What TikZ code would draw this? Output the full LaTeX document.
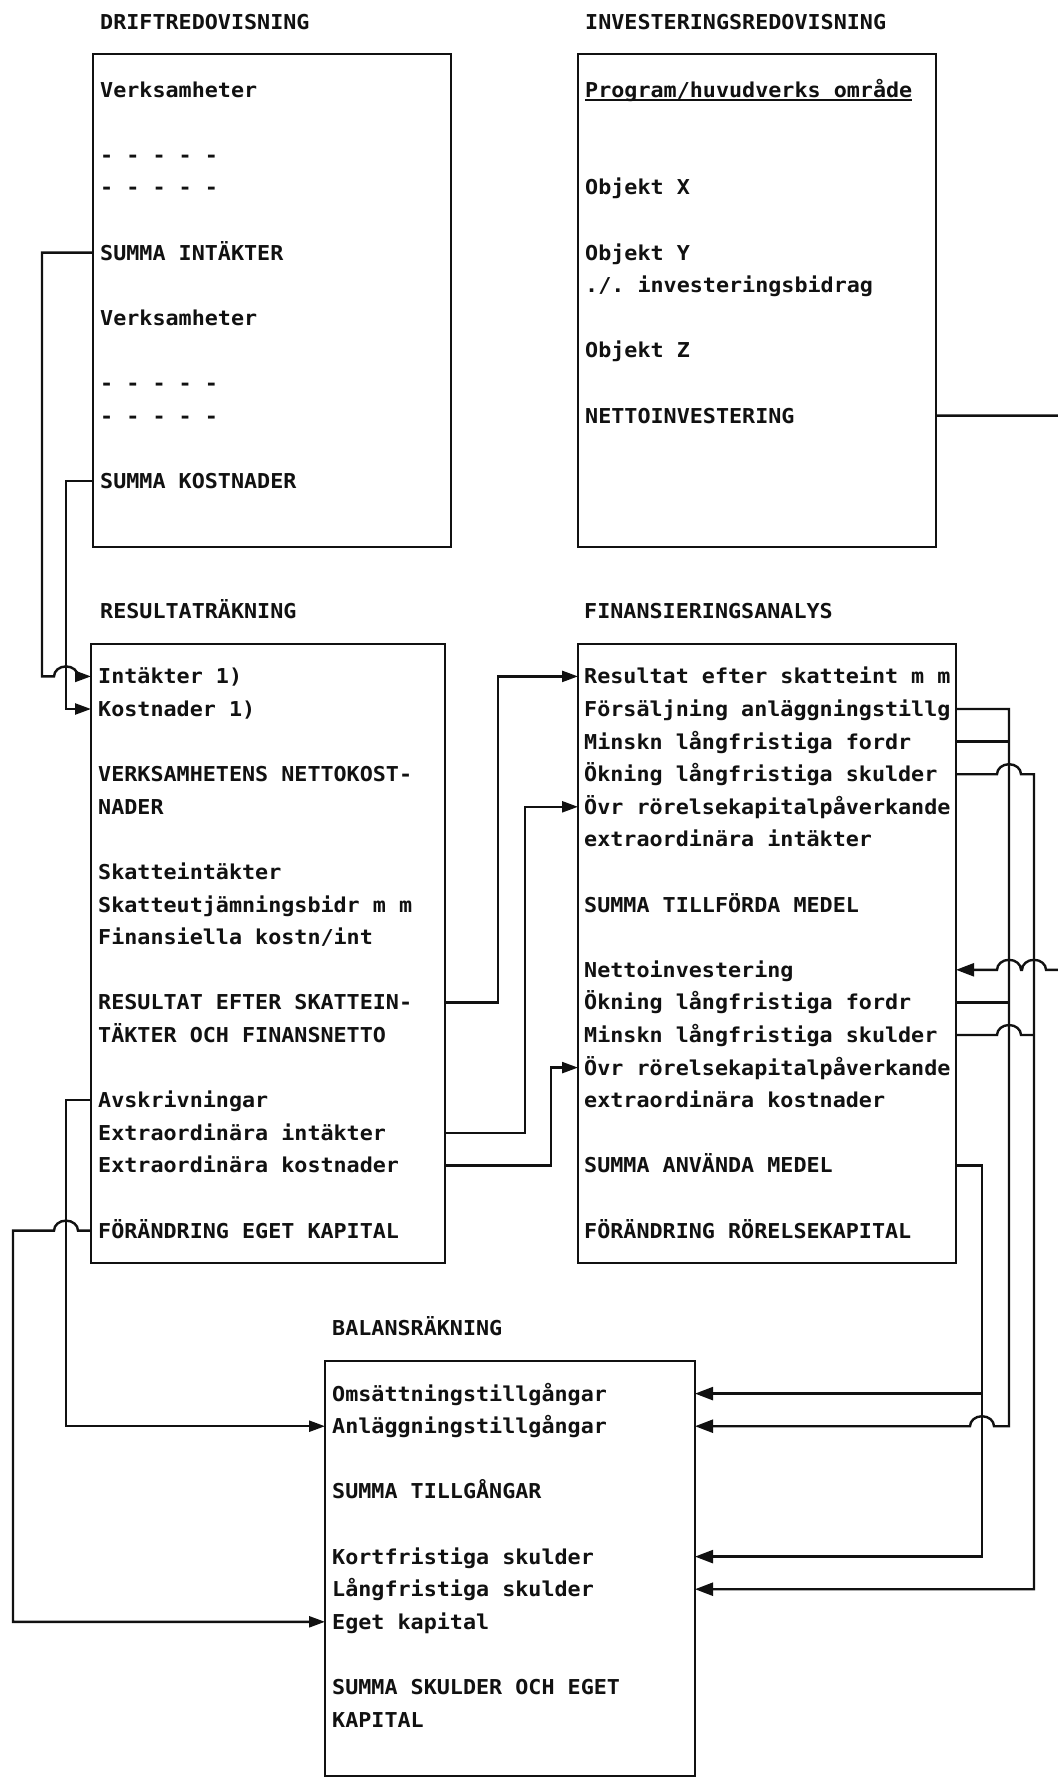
\documentclass[tikz,border=0pt]{standalone}
\usepackage{fontspec}
\setmonofont[FakeStretch=1.06]{DejaVu Sans Mono}
\usetikzlibrary{arrows.meta,calc,positioning}
\definecolor{ledgerInk}{HTML}{111111}
\definecolor{ledgerPaper}{HTML}{FFFFFF}

\begin{document}
\begin{tikzpicture}[x=1pt,y=-1pt,>=Latex,line join=miter]
\path[fill=ledgerPaper] (0,0) rectangle (1057,1779);
\useasboundingbox (0,0) rectangle (1057,1779);
\tikzset{panel/.style={draw=ledgerInk,line width=2.8pt,anchor=north west,inner sep=0pt,outer sep=0pt},item/.style={anchor=west,inner sep=0pt,text height=15pt,text depth=0pt,text=ledgerInk,font=\ttfamily\bfseries\fontsize{20.5}{24}\selectfont},wire/.style={draw=ledgerInk,line width=2.4pt},feed/.style={wire,-{Triangle[length=16pt,width=11pt]}},bigfeed/.style={wire,-{Triangle[length=18pt,width=13pt]}}}
\node[item] (tDrift) at (100,22) {DRIFTREDOVISNING}; \node[item] (tInv) at (585,22) {INVESTERINGSREDOVISNING};
\node[item] (tRes) at (100,611) {RESULTATRÄKNING}; \node[item] (tFin) at (584,611) {FINANSIERINGSANALYS};
\node[item] (tBal) at (332,1328) {BALANSRÄKNING};
\node[panel,minimum width=358pt,minimum height=493pt] (drift) at (93,54) {};
\node[panel,minimum width=358pt,minimum height=493pt] (inv) at (578,54) {};
\node[panel,minimum width=354pt,minimum height=619pt] (res) at (91,644) {};
\node[panel,minimum width=378pt,minimum height=619pt] (fin) at (578,644) {};
\node[panel,minimum width=370pt,minimum height=415pt] (bal) at (325,1361) {};
\node[item] (verk1) at (100,89.6) {Verksamheter}; \node[item] (dash1) at (100,154.8) {- - - - -}; \node[item] (dash2) at (100,187.4) {- - - - -};
\node[item] (sumint) at (100,252.6) {SUMMA INTÄKTER}; \node[item] (verk2) at (100,317.8) {Verksamheter};
\node[item] (dash3) at (100,383.0) {- - - - -}; \node[item] (dash4) at (100,415.6) {- - - - -}; \node[item] (sumkost) at (100,480.8) {SUMMA KOSTNADER};
\node[item] (prog) at (585,89.6) {Program/huvudverks område}; \draw[wire,line width=1.8pt] ([yshift=-3pt]prog.south west) -- ([yshift=-3pt]prog.south east);
\node[item] (objx) at (585,187.4) {Objekt X}; \node[item] (objy) at (585,252.6) {Objekt Y}; \node[item] (bidrag) at (585,285.2) {./. investeringsbidrag};
\node[item] (objz) at (585,350.4) {Objekt Z}; \node[item] (netinv) at (585,415.6) {NETTOINVESTERING};
\node[item] (intakt) at (98,676.4) {Intäkter 1)}; \node[item] (kostn) at (98,709.0) {Kostnader 1)};
\node[item] (vnk) at (98,774.2) {VERKSAMHETENS NETTOKOST-}; \node[item] (vnk2) at (98,806.8) {NADER};
\node[item] (skint) at (98,872.0) {Skatteintäkter}; \node[item] (skutj) at (98,904.6) {Skatteutjämningsbidr m m}; \node[item] (finkost) at (98,937.2) {Finansiella kostn/int};
\node[item] (resul) at (98,1002.4) {RESULTAT EFTER SKATTEIN-}; \node[item] (resul2) at (98,1035.0) {TÄKTER OCH FINANSNETTO};
\node[item] (avskr) at (98,1100.2) {Avskrivningar}; \node[item] (exint) at (98,1132.8) {Extraordinära intäkter}; \node[item] (exkost) at (98,1165.4) {Extraordinära kostnader};
\node[item] (fek) at (98,1230.6) {FÖRÄNDRING EGET KAPITAL};
\node[item] (fres) at (584,676.4) {Resultat efter skatteint m m}; \node[item] (fsalj) at (584,709.0) {Försäljning anläggningstillg};
\node[item] (fminf) at (584,741.6) {Minskn långfristiga fordr}; \node[item] (foks) at (584,774.2) {Ökning långfristiga skulder};
\node[item] (fovr) at (584,806.8) {Övr rörelsekapitalpåverkande}; \node[item] (fexint) at (584,839.4) {extraordinära intäkter};
\node[item] (ftillf) at (584,904.6) {SUMMA TILLFÖRDA MEDEL}; \node[item] (fnet) at (584,969.8) {Nettoinvestering};
\node[item] (fokf) at (584,1002.4) {Ökning långfristiga fordr}; \node[item] (fmins) at (584,1035.0) {Minskn långfristiga skulder};
\node[item] (fovr2) at (584,1067.6) {Övr rörelsekapitalpåverkande}; \node[item] (fexkost) at (584,1100.2) {extraordinära kostnader};
\node[item] (fanv) at (584,1165.4) {SUMMA ANVÄNDA MEDEL}; \node[item] (frk) at (584,1230.6) {FÖRÄNDRING RÖRELSEKAPITAL};
\node[item] (oms) at (332,1393.6) {Omsättningstillgångar}; \node[item] (anl) at (332,1426.2) {Anläggningstillgångar};
\node[item] (sumt) at (332,1491.4) {SUMMA TILLGÅNGAR}; \node[item] (kort) at (332,1556.6) {Kortfristiga skulder};
\node[item] (lang) at (332,1589.2) {Långfristiga skulder}; \node[item] (eget) at (332,1621.8) {Eget kapital};
\node[item] (sums) at (332,1687.0) {SUMMA SKULDER OCH EGET}; \node[item] (kap) at (332,1719.6) {KAPITAL};
\coordinate (busI) at (42,0); \coordinate (busK) at (66,0); \coordinate (busE) at (13,0);
\coordinate (busR) at (498,0); \coordinate (busX) at (525,0); \coordinate (busY) at (551,0);
\coordinate (busC) at (982,0); \coordinate (busA) at (1009,0); \coordinate (busB) at (1034,0); \coordinate (busN) at (1062,0);
\draw[feed] (drift.west |- sumint.west) -- (busI |- sumint.west) -- (busI |- intakt.west) -- ([xshift=-12pt]busK |- intakt.west) arc[start angle=180,end angle=360,x radius=12,y radius=10] -- (res.west |- intakt.west);
\draw[feed] (drift.west |- sumkost.west) -- (busK |- sumkost.west) -- (busK |- kostn.west) -- (res.west |- kostn.west);
\draw[feed] (res.west |- avskr.west) -- (busK |- avskr.west) -- (busK |- anl.west) -- (bal.west |- anl.west);
\draw[feed] (res.west |- fek.west) -- ([xshift=12pt]busK |- fek.west) arc[start angle=0,end angle=-180,x radius=12,y radius=10] -- (busE |- fek.west) -- (busE |- eget.west) -- (bal.west |- eget.west);
\draw[feed] (res.east |- resul.west) -- (busR |- resul.west) -- (busR |- fres.west) -- (fin.west |- fres.west);
\draw[feed] (res.east |- exint.west) -- (busX |- exint.west) -- (busX |- fovr.west) -- (fin.west |- fovr.west);
\draw[feed] (res.east |- exkost.west) -- (busY |- exkost.west) -- (busY |- fovr2.west) -- (fin.west |- fovr2.west);
\draw[bigfeed] (inv.east |- netinv.west) -- (busN |- netinv.west) -- (busN |- fnet.west) -- ([xshift=12pt]busB |- fnet.west) arc[start angle=0,end angle=-180,x radius=12,y radius=10] -- ([xshift=12pt]busA |- fnet.west) arc[start angle=0,end angle=-180,x radius=12,y radius=10] -- (fin.east |- fnet.west);
\draw[bigfeed] (fin.east |- fsalj.west) -- (busA |- fsalj.west) -- (busA |- anl.west) -- ([xshift=12pt]busC |- anl.west) arc[start angle=0,end angle=-180,x radius=12,y radius=10] -- (bal.east |- anl.west);
\draw[wire] (fin.east |- fminf.west) -- (busA |- fminf.west); \draw[wire] (fin.east |- fokf.west) -- (busA |- fokf.west);
\draw[bigfeed] (fin.east |- foks.west) -- ([xshift=-12pt]busA |- foks.west) arc[start angle=180,end angle=360,x radius=12,y radius=10] -- (busB |- foks.west) -- (busB |- lang.west) -- (bal.east |- lang.west);
\draw[wire] (fin.east |- fmins.west) -- ([xshift=-12pt]busA |- fmins.west) arc[start angle=180,end angle=360,x radius=12,y radius=10] -- (busB |- fmins.west);
\draw[bigfeed] (fin.east |- fanv.west) -- (busC |- fanv.west) -- (busC |- kort.west) -- (bal.east |- kort.west);
\draw[bigfeed] (busC |- oms.west) -- (bal.east |- oms.west);
\end{tikzpicture}
\end{document}
